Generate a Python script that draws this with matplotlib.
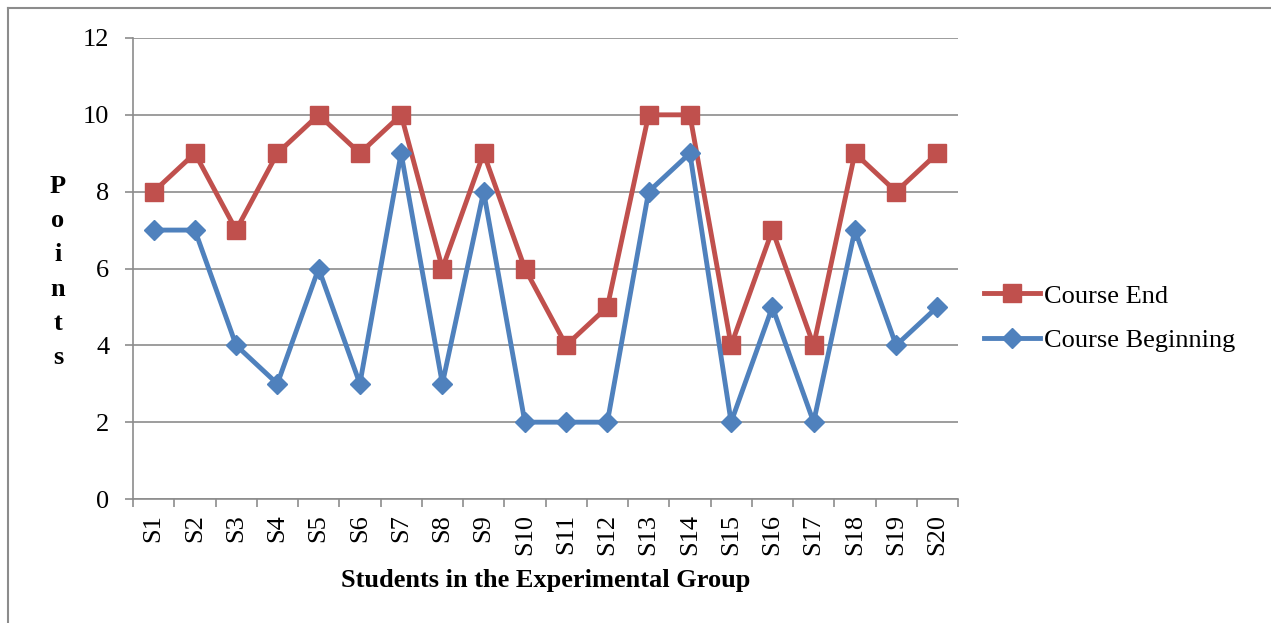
import matplotlib
matplotlib.use('Agg')
import matplotlib.pyplot as plt
import numpy as np
from matplotlib.lines import Line2D

# data
students = ['S%d' % i for i in range(1, 21)]
course_end = [8, 9, 7, 9, 10, 9, 10, 6, 9, 6, 4, 5, 10, 10, 4, 7, 4, 9, 8, 9]
course_beginning = [7, 7, 4, 3, 6, 3, 9, 3, 8, 2, 2, 2, 8, 9, 2, 5, 2, 7, 4, 5]
y_ticks = [0, 2, 4, 6, 8, 10, 12]

plt.rcParams['font.family'] = ['Liberation Serif', 'DejaVu Serif']

red = '#C0504D'
blue = '#4F81BD'
gray = '#8c8c8c'

fig = plt.figure(figsize=(12.71, 6.23), dpi=100)
ax = fig.add_axes([133 / 1271, 1 - 499 / 623, 825 / 1271, 461 / 623])

x = np.arange(len(students))
ax.plot(x, course_end, color=red, lw=3.5, marker='s', ms=13, label='Course End', zorder=3)
ax.plot(x, course_beginning, color=blue, lw=3.5, marker='D', ms=10.5, label='Course Beginning', zorder=3)

ax.set_xlim(-0.5, len(students) - 0.5)
ax.set_ylim(0, 12)
ax.set_yticks(y_ticks)
ax.set_xticks(x)
ax.set_xticklabels(students, rotation=90, fontsize=19)
ax.set_xticks(np.arange(len(students) + 1) - 0.5, minor=True)
ax.tick_params(axis='x', which='major', length=0, pad=11)
ax.tick_params(axis='x', which='minor', length=6, width=1.2, color=gray)
ax.tick_params(axis='y', length=6, width=1.2, color=gray, labelsize=19, pad=11)

ax.grid(axis='y', color=gray, lw=1.2)
ax.set_axisbelow(True)
for s in ['top', 'right']:
    ax.spines[s].set_visible(False)
for s in ['left', 'bottom']:
    ax.spines[s].set_color(gray)
    ax.spines[s].set_linewidth(1.2)

ax.set_xlabel('Students in the Experimental Group', fontsize=19, fontweight='bold', labelpad=10)
fig.text(58 / 1271, 1 - 272 / 623, 'P\no\ni\nn\nt\ns', fontsize=19, fontweight='bold',
         ha='center', va='center', linespacing=1.62)

ax.legend(loc='center left', bbox_to_anchor=(1.0, 0.392), frameon=False, fontsize=19,
          handlelength=2.1, handletextpad=0.15, labelspacing=0.8, borderaxespad=0.6)

# outer frame
fig.add_artist(Line2D([8 / 1271, 1], [1 - 8 / 623] * 2, color=gray, lw=1.5, transform=fig.transFigure))
fig.add_artist(Line2D([8 / 1271] * 2, [0, 1 - 8 / 623], color=gray, lw=1.5, transform=fig.transFigure))

fig.savefig('out.png', dpi=100)
